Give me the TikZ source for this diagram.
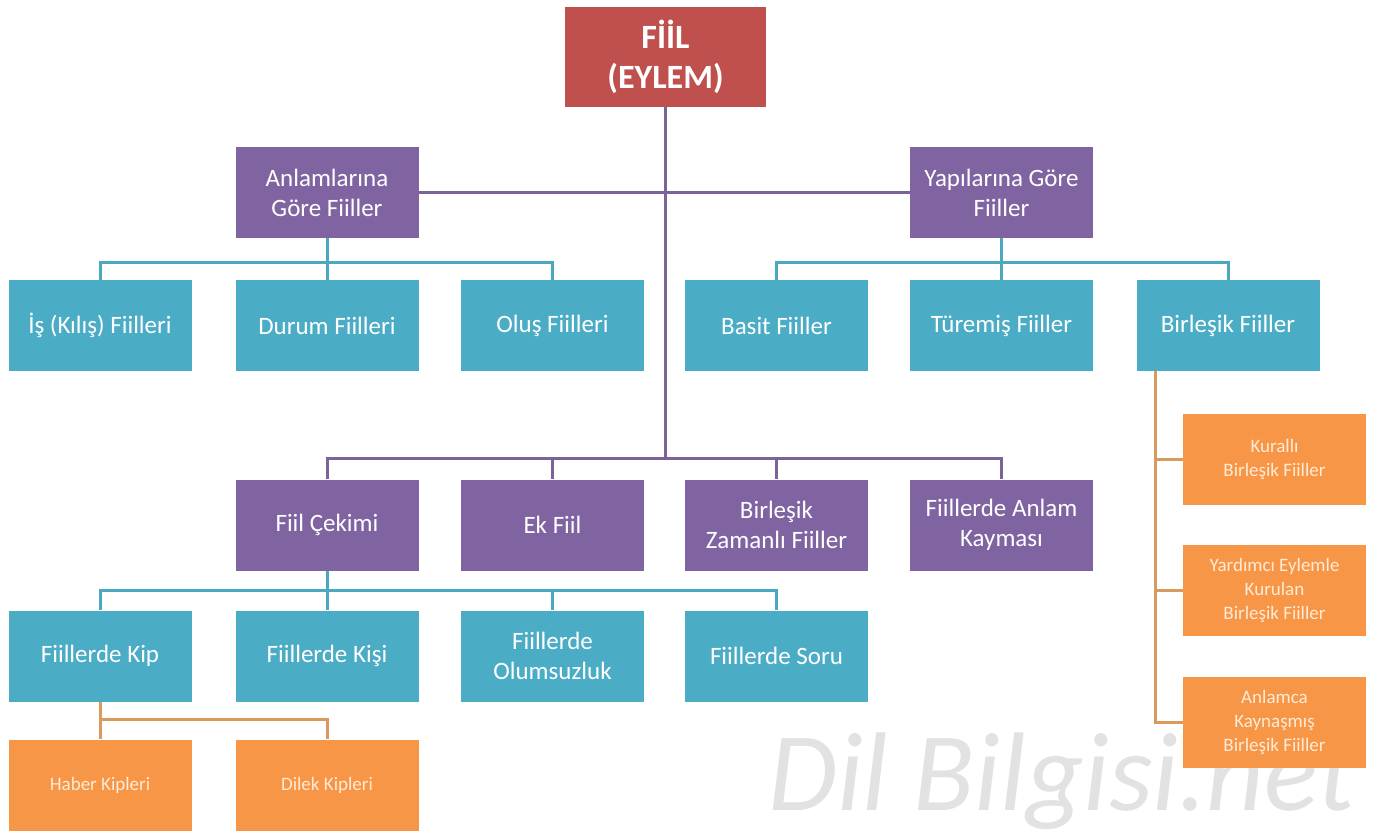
\documentclass[tikz,border=0pt]{standalone}
\usepackage{fontspec}
\setmainfont{Carlito}
\definecolor{cred}{HTML}{C0504D}
\definecolor{cpur}{HTML}{8064A2}
\definecolor{ccya}{HTML}{4BACC6}
\definecolor{cora}{HTML}{F79646}
\definecolor{lpur}{HTML}{7A6399}
\definecolor{lcya}{HTML}{4AA8C0}
\definecolor{lora}{HTML}{D99A5E}
\definecolor{otext}{HTML}{FFEBD8}
\definecolor{wm}{HTML}{E2E2E2}
\tikzset{
  box/.style={minimum width=91.5pt, minimum height=45.5pt, inner sep=0pt, align=center, text=white, font=\fontsize{12.5}{15}\selectfont},
  redbox/.style={box, fill=cred, minimum width=100.5pt, minimum height=50pt, font=\fontsize{17}{20}\selectfont\bfseries},
  purbox/.style={box, fill=cpur},
  cyabox/.style={box, fill=ccya},
  orabox/.style={box, fill=cora, text=otext, font=\fontsize{9.5}{12}\selectfont},
  purline/.style={draw=lpur, line width=1.5pt},
  cyaline/.style={draw=lcya, line width=1.5pt},
  oraline/.style={draw=lora, line width=1.5pt}
}
\begin{document}
\begin{tikzpicture}[x=0.5pt, y=-0.5pt]
\useasboundingbox (0,0) rectangle (1383,835);
\node[text=wm, font=\fontsize{56}{56}\selectfont\itshape, anchor=base west, inner sep=0pt] (wmark) at (768,810) {Dil Bilgisi.net};
% nodes
\node[redbox] (fiil) at (665.5,57) {FİİL\\(EYLEM)};
\node[purbox] (anl) at (327,192.5) {Anlamlarına\\Göre Fiiller};
\node[purbox] (yap) at (1001.5,192.5) {Yapılarına Göre\\Fiiller};
\node[cyabox] (is) at (100,325.5) {İş (Kılış) Fiilleri};
\node[cyabox] (durum) at (327,325.5) {Durum Fiilleri};
\node[cyabox] (olus) at (552.5,325.5) {Oluş Fiilleri};
\node[cyabox] (basit) at (776.5,325.5) {Basit Fiiller};
\node[cyabox] (turemis) at (1001.5,325.5) {Türemiş Fiiller};
\node[cyabox] (birlesik) at (1228,325.5) {Birleşik Fiiller};
\node[purbox] (cekim) at (327,525) {Fiil Çekimi};
\node[purbox] (ek) at (552.5,525) {Ek Fiil};
\node[purbox] (bzf) at (776.5,525) {Birleşik\\Zamanlı Fiiller};
\node[purbox] (kayma) at (1001.5,525) {Fiillerde Anlam\\Kayması};
\node[cyabox] (kip) at (100,656) {Fiillerde Kip};
\node[cyabox] (kisi) at (327,656) {Fiillerde Kişi};
\node[cyabox] (olum) at (552.5,656) {Fiillerde\\Olumsuzluk};
\node[cyabox] (soru) at (776.5,656) {Fiillerde Soru};
\node[orabox] (haber) at (100,785) {Haber Kipleri};
\node[orabox] (dilek) at (327,785) {Dilek Kipleri};
\node[orabox] (kur) at (1274.5,459) {Kurallı\\Birleşik Fiiller};
\node[orabox] (yard) at (1274.5,590.5) {Yardımcı Eylemle\\Kurulan\\Birleşik Fiiller};
\node[orabox] (anlamca) at (1274.5,722) {Anlamca\\Kaynaşmış\\Birleşik Fiiller};
% junction coordinates
\coordinate (j3) at (665.5,458);
\coordinate (b1) at (327,262);
\coordinate (b2) at (1001.5,262);
\coordinate (c1) at (327,590);
\coordinate (d1) at (100,719);
\coordinate (e0) at (1155,348.25);
% connectors
\draw[purline] (anl.east) -- (yap.west);
\draw[purline] (fiil.south) -- (j3);
\draw[purline] (cekim.north) |- (j3) -| (kayma.north);
\draw[purline] (ek.north) -- (ek.north |- j3);
\draw[purline] (bzf.north) -- (bzf.north |- j3);
\draw[cyaline] (anl.south) -- (durum.north);
\draw[cyaline] (is.north) |- (b1) -| (olus.north);
\draw[cyaline] (yap.south) -- (turemis.north);
\draw[cyaline] (basit.north) |- (b2) -| (birlesik.north);
\draw[cyaline] (cekim.south) -- (kisi.north);
\draw[cyaline] (kip.north) |- (c1) -| (soru.north);
\draw[cyaline] (olum.north) -- (olum.north |- c1);
\draw[oraline] (kip.south) -- (haber.north);
\draw[oraline] (haber.north) |- (d1) -| (dilek.north);
\draw[oraline] (e0 |- birlesik.south) |- (kur.west);
\draw[oraline] (e0 |- birlesik.south) |- (yard.west);
\draw[oraline] (e0 |- birlesik.south) |- (anlamca.west);
\end{tikzpicture}
\end{document}
